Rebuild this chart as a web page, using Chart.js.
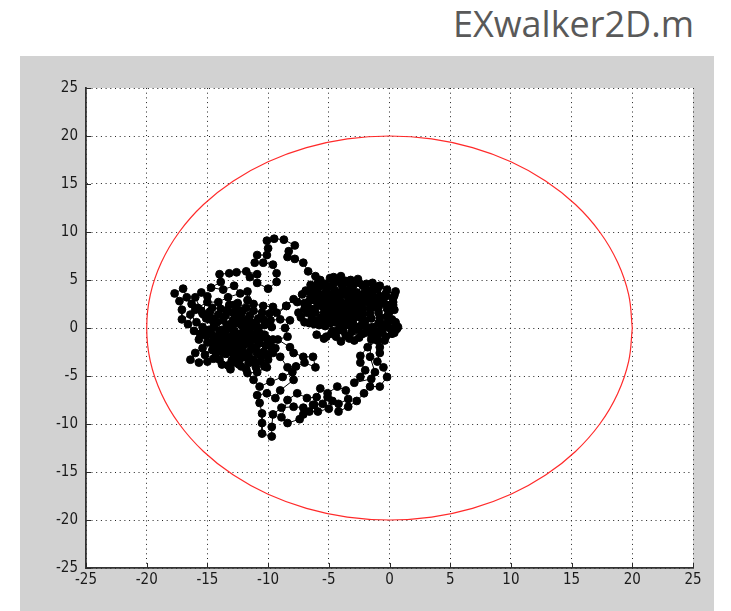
<!DOCTYPE html>
<html><head><meta charset="utf-8">
<script src="https://cdn.jsdelivr.net/npm/chart.js@4"></script>
<style>
html,body{margin:0;padding:0;background:#fff;width:731px;height:611px;overflow:hidden;}
#title{position:absolute;right:37px;top:-1px;font-family:"Open Sans",sans-serif;font-size:36px;color:#595959;white-space:nowrap;}
#panel{position:absolute;left:20px;top:56px;width:694px;height:555px;background:#d2d2d2;}
#wrap{position:absolute;left:0;top:0;width:731px;height:611px;}
</style></head><body>
<div id="title">EXwalker2D.m</div>
<div id="panel"></div>
<div id="wrap"><canvas id="c" width="731" height="611"></canvas></div>
<script>
const titleText = "EXwalker2D.m";
const xTicks = [-25,-20,-15,-10,-5,0,5,10,15,20,25];
const yTicks = [-25,-20,-15,-10,-5,0,5,10,15,20,25];

// red circle (radius 20), hand-listed every 10 degrees
const circleX = [20,19.7,18.79,17.32,15.32,12.86,10,6.84,3.47,0,-3.47,-6.84,-10,-12.86,-15.32,-17.32,-18.79,-19.7,-20,-19.7,-18.79,-17.32,-15.32,-12.86,-10,-6.84,-3.47,0,3.47,6.84,10,12.86,15.32,17.32,18.79,19.7,20];
const circleY = [0,3.47,6.84,10,12.86,15.32,17.32,18.79,19.7,20,19.7,18.79,17.32,15.32,12.86,10,6.84,3.47,0,-3.47,-6.84,-10,-12.86,-15.32,-17.32,-18.79,-19.7,-20,-19.7,-18.79,-17.32,-15.32,-12.86,-10,-6.84,-3.47,0];

// random walk path, in segments
const walkEast = [[0,0],[0.6,0.2],[0.2,0.9],[0,1.7],[0.3,2.4],[0.3,3.1],[0.5,3.8],[-0.3,3.6],[-0.5,2.7],[-1.2,2.2],[-1.9,2.7],[-1.4,3.4],[-1.3,4.1],[-2.2,4.4],[-2.7,3.7],[-3.4,3.2],[-3.9,3.9],[-3.4,4.7],[-4.2,5.0],[-4.9,5.2],[-5.0,4.3],[-4.4,3.6],[-4.8,2.8],[-4.1,2.2],[-3.3,2.5],[-2.6,1.9],[-2.9,1.1],[-2.2,0.5],[-1.4,0.1],[-0.6,-0.4],[-0.2,0.5],[-0.8,1.1],[-0.1,1.8],[-0.6,2.6],[-1.3,3.1],[-2.1,3.6],[-2.8,2.8],[-3.6,2.2],[-4.4,1.6],[-5.1,2.2],[-5.7,2.9],[-5.2,3.6],[-5.8,4.3],[-6.5,3.7],[-6.2,2.9],[-6.9,2.3],[-6.4,1.6],[-5.6,1.1],[-4.9,0.5],[-4.2,0.9],[-3.6,0.3],[-3.1,-0.4],[-2.5,-1.0],[-1.8,-0.4],[-1.0,-1.1],[-0.4,-1.3],[0.2,-0.6],[0.7,0.1],[0.1,0.8],[-0.7,0.4],[-1.5,1.0],[-2.2,1.5],[-3.0,2.0],[-3.7,1.3],[-4.5,0.6],[-5.3,0.2],[-5.9,0.8],[-6.6,0.5],[-7.3,1.1],[-7.0,2.0],[-7.6,2.7],[-7.2,3.5],[-6.5,3.1],[-5.9,3.6],[-5.2,4.1],[-4.6,4.6],[-3.9,4.4],[-3.2,4.0],[-2.5,3.4],[-1.8,3.9],[-1.0,4.0],[-0.3,3.3],[0.3,2.7],[-0.2,2.0],[-0.9,1.6],[-1.6,2.0],[-2.4,2.4],[-3.1,2.9],[-3.8,3.5],[-4.5,3.9],[-4.0,4.7],[-3.2,5.0],[-2.5,4.7],[-2.0,3.2],[-2.7,2.6],[-3.5,1.7],[-4.2,2.7],[-5.0,3.1],[-5.6,2.3],[-6.1,1.6],[-5.4,1.6],[-4.8,1.3],[-4.0,0.9],[-3.3,1.2],[-3.0,0.4],[-3.8,-0.3],[-4.4,-0.9],[-4.0,-1.4],[-3.3,-1.1],[-2.6,-0.2],[-3.2,0.8],[-3.9,1.8],[-4.6,2.3],[-5.3,2.8],[-5.5,3.5],[-6.2,4.1],[-5.9,4.7]];
const walkNorth = [[-5.7,5.0],[-6.1,5.4],[-6.7,5.9],[-7.1,6.8],[-7.8,7.2],[-8.4,7.4],[-8.3,8.0],[-7.8,8.6],[-8.7,9.2],[-9.5,9.3],[-10.1,9.1],[-10.0,8.3],[-10.1,7.6],[-10.9,7.6],[-11.1,6.8],[-10.4,6.8],[-9.6,6.6],[-9.3,5.7],[-9.3,4.8],[-10.0,4.1],[-10.9,4.7],[-11.5,5.3],[-10.9,5.6],[-11.8,5.9],[-12.6,5.8],[-13.2,5.7],[-14.0,5.6],[-13.9,4.8],[-14.7,4.2],[-13.7,4.0],[-12.8,4.4],[-12.3,3.6],[-13.3,3.2],[-14.1,2.7],[-15.0,2.7],[-15.8,2.1],[-16.3,2.5],[-16.7,3.2],[-17.0,4.1],[-17.7,3.6],[-17.3,2.8],[-17.1,1.9],[-17.1,0.9],[-16.4,1.4],[-15.9,0.6],[-15.4,0.1],[-14.8,0.9],[-14.8,1.7],[-14.1,1.4],[-13.7,0.8],[-14.5,0.1],[-15.1,1.0],[-15.5,1.8],[-16.0,3.2],[-15.5,3.7],[-15.0,3.3],[-15.4,1.5],[-16.0,1.9],[-16.6,0.4],[-16.1,-0.3],[-15.6,-0.6]];
const walkWest = [[-14.9,-0.2],[-13.9,-0.6],[-13.2,-0.1],[-12.6,0.5],[-12.0,-0.1],[-11.4,0.5],[-10.8,0],[-10.3,-0.7],[-11.0,-1.2],[-11.7,-0.8],[-12.4,-1.3],[-13.1,-0.9],[-13.8,-1.5],[-14.4,-0.9],[-15.0,-1.5],[-15.4,-2.1],[-16.0,-2.6],[-16.4,-3.3],[-15.7,-3.6],[-15.0,-3.5],[-14.3,-2.6],[-13.6,-2.2],[-12.9,-2.7],[-12.2,-2.1],[-11.6,-2.6],[-11.0,-2.0],[-10.4,-2.5],[-9.8,-1.9],[-10.1,-1.1],[-10.7,-0.5],[-11.3,0.2],[-12.0,0.8],[-12.7,1.3],[-13.4,1.8],[-12.8,2.4],[-12.1,1.8],[-11.5,1.3],[-10.8,1.0],[-10.3,0.3],[-10.9,-0.3],[-11.6,-0.3],[-12.3,-0.6],[-13.0,-1.5],[-12.6,-2.3],[-11.9,-3.0],[-11.2,-3.3],[-10.6,-2.9],[-10.0,-3.3],[-10.3,-4.0],[-11.0,-4.1],[-11.6,-3.6],[-12.3,-3.2],[-13.0,-3.4],[-13.5,-2.7],[-14.1,-2.0],[-14.6,-1.4],[-14.0,-0.3],[-13.4,0.3],[-12.8,-0.3],[-12.2,0.3],[-11.6,1.0],[-12.2,1.5],[-12.9,0.8],[-13.5,1.3],[-14.2,0.6],[-14.7,-0.6],[-13.6,-1.0],[-12.9,-1.9],[-12.2,-1.5],[-11.5,-1.6],[-10.9,-1.0],[-11.4,-2.2],[-12.0,-2.6],[-12.7,-3.0],[-13.3,-3.9],[-14.0,-3.3],[-13.4,-2.2],
  [-14.0,-1.2],[-14.6,-2.3],[-15.2,-2.8],[-14.5,-3.2],[-13.8,-3.8],[-13.1,-4.3],[-12.4,-3.8],[-11.8,-4.3],[-11.1,-3.7],[-10.6,-3.5],[-10.0,-2.7],[-9.4,-2.1],[-9.6,-1.2],[-10.2,-1.8],[-10.7,-1.6],[-11.4,-1.2],[-12.0,-1.8],[-12.7,-0.9],[-13.3,-1.6],[-13.9,-0.9],[-14.5,-1.9],[-15.1,-0.8],[-15.7,-1.2],[-15.1,-0.4],[-14.4,0.4],[-13.8,-0.2],[-13.1,0.4],[-12.4,0.9],[-11.7,0.2],[-11.0,0.6],[-10.4,0.9],[-9.7,0.1],[-9.9,1.5],[-10.5,1.6],[-11.2,1.8],[-11.8,2.1],[-12.5,2.6],[-13.2,2.4],[-13.9,2.0],[-14.6,2.1],[-15.3,1.4],
  [-14.6,1.0],[-13.6,-0.5],[-13.0,0.0],[-12.5,-0.6],[-11.9,-1.2],[-11.3,-0.7],[-10.6,-1.0],[-10.9,-2.6],[-11.6,-3.0],[-12.4,-2.5],[-13.0,-2.0],[-13.7,-1.8],[-14.3,-1.4],[-13.8,-2.5],[-12.9,-3.6],[-12.2,-4.0],[-12.6,-1.7],[-12.0,-0.5],[-12.9,1.6],
  [-12.5,1.9],[-11.7,2.9],[-11.7,3.8],[-11.2,2.5],[-10.4,2.3],[-9.6,2.2],[-9.3,1.6],[-8.5,2.3],[-7.9,3.0],[-8.5,2.3],[-9.8,0.8],[-9.0,0.9],[-8.2,0.8],[-8.6,0.0],[-8.4,-0.9],[-9.2,-1.2],[-8.2,-2.0],[-7.9,-2.6],[-7.1,-3.0],[-6.3,-3.0],[-6.1,-4.1],[-7.0,-3.6],[-7.7,-4.0],[-8.4,-4.1],[-9.0,-3.0],[-9.6,-2.6],[-10.1,-4.1],[-10.9,-4.6]];
const walkSouth = [[-11.7,-4.7],[-11.2,-5.4],[-10.7,-6.1],[-9.8,-5.6],[-8.8,-5.1],[-8.0,-4.6],[-7.9,-5.4],[-9.0,-6.5],[-9.4,-7.3],[-10.1,-6.8],[-10.9,-7.0],[-10.7,-7.8],[-10.5,-8.9],[-10.5,-9.9],[-10.5,-11.0],[-9.7,-11.3],[-9.7,-10.3],[-9.6,-9.0],[-8.9,-8.3],[-7.9,-8.2],[-7.1,-8.3],[-7.1,-9.0],[-7.4,-9.5],[-8.4,-9.9],[-8.9,-9.3],[-8.4,-7.5],[-7.6,-6.8],[-6.8,-7.3],[-6.0,-7.2],[-6.3,-8.0],[-5.5,-7.9],[-5.1,-7.2],[-4.7,-7.6],[-5.0,-8.4],[-5.9,-8.7],[-6.6,-8.7],[-6.2,-8.0],[-5.7,-6.3],[-5.1,-6.8],[-4.3,-6.1],[-3.6,-6.5],[-3.4,-7.4],[-4.2,-7.9],[-4.2,-8.7],[-3.4,-8.2],[-2.7,-7.6],[-2.1,-6.8],[-1.6,-6.1],[-0.8,-6.1],[-0.2,-5.1],[-0.5,-4.1],[-1.0,-3.5],[-0.8,-2.6],[-0.8,-2.0],[-1.0,-1.3],[-1.8,-2.0],[-2.4,-2.9],[-2.4,-3.6],[-2.0,-4.4],[-2.4,-5.1],[-2.9,-5.7],[-1.5,-5.3],[-1.2,-4.6],[-1.6,-3.0],[-1.5,-0.6],[-2.0,0.2],[-1.6,1.5]];
const walkEastAgain = [[-2.3,1.0],[-2.9,1.6],[-3.5,0.9],[-4.1,0.2],[-4.7,-0.3],[-5.2,-0.9],[-6.0,-0.7],[-5.4,-1.1],[-4.8,-0.6],[-4.2,-0.2],[-3.6,-0.8],[-2.9,-1.3],[-2.2,-0.6],[-1.5,-1.2],[-0.9,-0.6],[-0.3,-0.9],[0.3,-0.2],[0.5,0.6],[-0.2,1.2],[-0.9,0.5],[-2.4,0.2],[-3.0,0.9],[-3.8,0.6],[-4.4,1.2],[-5.1,0.9],[-5.8,0.3],[-6.4,1.0],[-7.0,0.6],[-7.5,1.6],[-7.0,2.6],[-6.6,2.0],[-5.9,2.4],[-5.3,1.9],[-4.7,1.9],[-4.0,1.4],[-3.4,2.0],[-2.8,2.3],[-2.2,2.0],[-1.5,2.5],[-0.9,2.2],[-0.2,2.4],[0.4,1.9],[0.4,3.4],[-0.2,4.0],[-0.8,3.3],[-1.5,3.8],[-2.2,3.2],[-2.9,3.4],[-3.5,3.9],[-4.1,3.2],[-4.8,3.5],[-5.4,3.0],[-6.0,3.3],[-6.7,2.7],[-6.9,3.9],[-6.5,4.5],[-5.8,4.9],[-5.3,4.6],[-4.6,5.3],[-4.0,5.4],[-3.6,4.9],[-3.0,4.4],[-2.6,5.1],[-1.9,4.6],[-1.4,4.7],[-0.8,4.4],[-0.7,2.9],[-1.1,2.5],[-1.7,3.0],[-2.4,2.9],[-3.1,3.6],[-3.7,2.6],[-4.3,3.0],[-4.9,2.5],[-5.5,2.6],[-6.2,2.0],[-6.8,1.6],[-6.2,0.4],[-5.6,0.6],[-5.0,1.6],[-4.3,0.6],[-3.7,1.0],[-3.1,0.1],[-2.6,1.2],[-2.0,0.8],[-1.0,-0.3],[-0.3,0.2],[0.4,-0.5],[0.6,-0.1]];

const walkPts = walkEast.concat(walkNorth, walkWest, walkSouth, walkEastAgain).map(p => ({x:p[0], y:p[1]}));
const circlePts = circleX.map((x,i) => ({x:x, y:circleY[i]}));

const tickFont = {family:"'Liberation Sans Narrow','DejaVu Sans Condensed','Liberation Sans',sans-serif", size:15};

const bgPlugin = {
  id:'bg',
  beforeDraw(chart){
    const {ctx, chartArea:a} = chart;
    ctx.save(); ctx.fillStyle='#ffffff';
    ctx.fillRect(a.left, a.top, a.right-a.left, a.bottom-a.top);
    ctx.restore();
  },
  afterDraw(chart){
    const {ctx, chartArea:a, scales} = chart;
    ctx.save(); ctx.strokeStyle='#2a2a2a'; ctx.lineWidth=1;
    ctx.beginPath();
    xTicks.forEach(v => { const px = Math.round(scales.x.getPixelForValue(v))+0.5; ctx.moveTo(px, a.bottom); ctx.lineTo(px, a.bottom-5); });
    yTicks.forEach(v => { const py = Math.round(scales.y.getPixelForValue(v))+0.5; ctx.moveTo(a.left, py); ctx.lineTo(a.left+5, py); });
    ctx.stroke(); ctx.restore();
  }
};

new Chart(document.getElementById('c'), {
  type:'scatter',
  data:{datasets:[
    {data:circlePts, showLine:true, borderColor:'#ff2a2a', borderWidth:1.2, pointRadius:0, tension:0.4, fill:false},
    {data:walkPts, showLine:true, borderColor:'#000', borderWidth:1, pointRadius:3.9, pointBorderWidth:1, pointBackgroundColor:'#000', pointBorderColor:'#000', tension:0}
  ]},
  options:{
    responsive:false, animation:false, devicePixelRatio:1,
    layout:{padding:{left:0, top:88, right:38, bottom:0}},
    plugins:{legend:{display:false}, tooltip:{enabled:false}},
    scales:{
      x:{type:'linear', min:-25, max:25, afterFit(s){s.height=43;},
        afterBuildTicks(s){s.ticks = xTicks.map(v=>({value:v}));},
        ticks:{color:'#1a1a1a', font:tickFont, padding:3, maxRotation:0, autoSkip:false},
        grid:{color:'#222', lineWidth:1, drawTicks:false},
        border:{display:true, color:'#333', width:1.8, dash:[1,3.7]}},
      y:{type:'linear', min:-25, max:25, afterFit(s){s.width=86;},
        afterBuildTicks(s){s.ticks = yTicks.map(v=>({value:v}));},
        ticks:{color:'#1a1a1a', font:tickFont, padding:8, autoSkip:false},
        grid:{color:'#222', lineWidth:1, drawTicks:false},
        border:{display:true, color:'#333', width:1.8, dash:[1,3.7]}}
    }
  },
  plugins:[bgPlugin]
});
</script>
</body></html>
